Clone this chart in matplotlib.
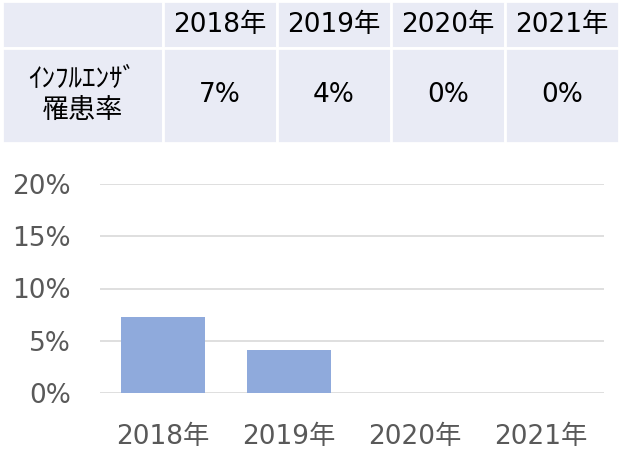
import matplotlib
matplotlib.use("Agg")
import matplotlib.pyplot as plt
from matplotlib.ticker import PercentFormatter

plt.rcParams['font.family'] = ['DejaVu Sans', 'Noto Sans CJK JP']

# data
years = ["2018年", "2019年", "2020年", "2021年"]
rate_labels = ["7%", "4%", "0%", "0%"]
rates = [7.3, 4.1, 0.0, 0.0]   # percent
row_label = "ｲﾝﾌﾙｴﾝｻﾞ\n罹患率"
y_ticks = [0, 5, 10, 15, 20]

W, H = 621, 473
fig = plt.figure(figsize=(W / 100, H / 100), dpi=100)

# table on top
tax = fig.add_axes([2 / W, 1 - 143 / H, 617 / W, 142 / H])
tax.axis("off")
cells = [[""] + years, [row_label] + rate_labels]
col_w = [161] + [114] * 4
tbl = tax.table(cellText=cells, colWidths=col_w, cellLoc="center",
                bbox=[0, 0, 1, 1])
tbl.auto_set_font_size(False)
for (r, c), cell in tbl.get_celld().items():
    cell.set_facecolor("#E9EBF5")
    cell.set_edgecolor("white")
    cell.set_linewidth(2)
    cell.set_height(47 if r == 0 else 95)
    cell.set_text_props(fontsize=19, color="black")
    if r == 1 and c == 0:
        cell.set_text_props(fontsize=19.5, linespacing=1.25)

# bar chart
ax = fig.add_axes([100 / W, 1 - 393 / H, 504 / W, 209 / H])
x = range(len(years))
ax.bar(x, rates, width=0.667, color="#8FAADC", zorder=2)
ax.set_xlim(-0.5, len(years) - 0.5)
ax.set_ylim(0, 20)
ax.set_yticks(y_ticks)
ax.yaxis.set_major_formatter(PercentFormatter(decimals=0))
ax.set_xticks(list(x))
ax.set_xticklabels(years)
ax.grid(axis="y", color="#D9D9D9", linewidth=1.2, zorder=0)
for s in ax.spines.values():
    s.set_visible(False)
ax.tick_params(axis="both", length=0, labelsize=19, labelcolor="#595959")
ax.tick_params(axis="y", pad=21)
ax.tick_params(axis="x", pad=22)

fig.savefig("out.png", dpi=100)
